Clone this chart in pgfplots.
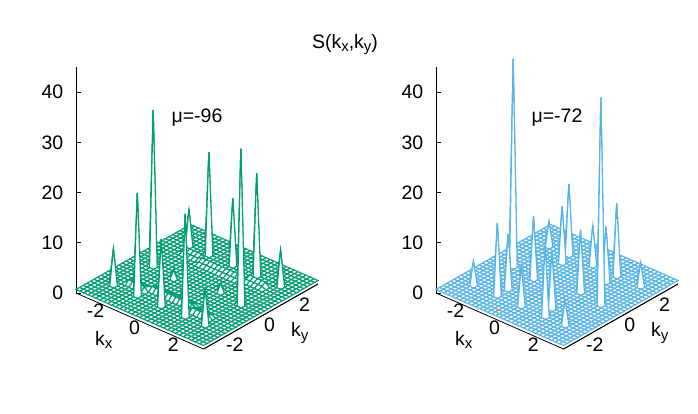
\documentclass[border=0pt]{standalone}
\usepackage{pgfplots}
\pgfplotsset{compat=1.18}
\usepackage{fontspec}
\setmainfont{Liberation Sans}
\definecolor{cgreen}{HTML}{009E73}
\definecolor{cblue}{HTML}{56B4E9}
\definecolor{corange}{HTML}{E69F00}
\newcommand{\lab}{\fontsize{19.5bp}{22bp}\selectfont}
\newcommand{\sbx}[1]{\raisebox{-3.5bp}{\fontsize{15bp}{16bp}\selectfont #1}}
\pgfplotsset{
  gpbase/.style={
    x={(19.44bp,-8.54bp)}, y={(17.45bp,9.91bp)}, z={(0bp,5.02bp)},
    anchor=origin,
    xmin=-3.28, xmax=3.28, ymin=-3.28, ymax=3.28, zmin=0, zmax=45,
    /pgf/number format/assume math mode=true,
    tick label style={font=\lab},
    axis line style={black,line width=0.8bp},
    label style={font=\lab},
    clip=false,
  },
  gp/.style={
    gpbase,
    axis x line*=bottom, axis y line=none, axis z line*=left,
    xtick={-2,0,2}, ztick={0,10,20,30,40},
    xticklabels={-2,0,2},
    xticklabel style={anchor=center, inner sep=0pt, xshift=-5.3bp, yshift=-6.7bp},
    zticklabel style={anchor=east, inner sep=0pt, xshift=-12.5bp},
    x tick style={draw=none}, z tick style={draw=none},
    xlabel={k\sbx{x}},
    x label style={at={(rel axis cs:0.4875,-0.30,0)},anchor=center,rotate=0,sloped like x axis=false},
    colormap={allwhite}{color=(white) color=(white)},
  },
  gpy/.style={
    gpbase,
    xmin=-6.56, xmax=0,
    axis x line=none, axis z line=none, axis y line*=center,
    ytick=\empty,
    ylabel={k\sbx{y}},
    y label style={at={(rel axis cs:1.30,0.506,0)},anchor=center,rotate=0,sloped like y axis=false},
  },
  mesht/.style={surf, shader=faceted, faceted color=#1, line width=1.1bp, mesh/rows=33, mesh/cols=33, mesh/ordering=x varies},
}
\newcommand{\zticks}{\pgfplotsinvokeforeach{0,10,20,30,40}{\draw[black,line width=0.8bp] (axis cs:-3.28,-3.28,##1) -- ([xshift=5bp]axis cs:-3.28,-3.28,##1);}}
\newcommand{\yticklab}{\pgfplotsinvokeforeach{-2,0,2}{\node[font=\lab,anchor=center,inner sep=0pt,xshift=8.9bp,yshift=-8.2bp] at (axis cs:3.28,##1,0) {##1};}}
\begin{document}
\begin{tikzpicture}[x=1bp,y=1bp]
\path[use as bounding box] (0,0) rectangle (698,413);
\node[font=\lab,anchor=center] at (345,368.5) {S(k\sbx{x},k\sbx{y})};
\begin{axis}[gp, at={(197bp,124.5bp)}]
\zticks
\yticklab
\addplot3[mesht=cgreen] table[row sep=crcr, z=z,
  x expr={(floor((\coordindex+0.5)/33)-16)*3.28/16},
  y expr={(16-mod(\coordindex,33))*3.28/16}] {
z\\
.7\\.7\\.7\\.7\\.7\\.7\\.7\\.7\\.7\\.7\\.7\\ .7\\.7\\.7\\.7\\.7\\.7\\.7\\.7\\.7\\.7\\.7\\ .7\\.7\\.7\\.7\\.7\\.7\\.7\\.7\\.7\\.7\\.7\\
.7\\.7\\.7\\.7\\.7\\.7\\.7\\.7\\.7\\.7\\.7\\ .7\\.7\\.7\\.7\\.7\\.7\\.7\\.7\\.7\\.7\\.7\\ .7\\.7\\.7\\.7\\.7\\.7\\.7\\.7\\.7\\.7\\.7\\
.7\\.7\\.7\\.7\\.7\\.7\\.7\\.7\\.7\\.7\\.7\\ .7\\.7\\.7\\.7\\.7\\.7\\.7\\.7\\.7\\.7\\.7\\ .7\\.7\\.7\\.7\\.7\\.7\\.7\\.7\\.7\\.7\\.7\\
.7\\.7\\.7\\.7\\.7\\.7\\.7\\.7\\.7\\.7\\.7\\ .7\\.7\\.7\\.7\\.7\\.7\\.7\\.7\\.7\\.7\\.7\\ .7\\.7\\.7\\.7\\.7\\.7\\.7\\.7\\.7\\.7\\.7\\
.7\\.7\\.7\\.7\\.7\\.7\\.7\\.7\\.7\\.7\\.7\\ .7\\.7\\.7\\.7\\.7\\.7\\.7\\.7\\.7\\.7\\.7\\ .7\\.7\\.7\\.7\\7.8\\.7\\.7\\.7\\.7\\.7\\.7\\
.7\\.7\\.7\\.7\\.7\\.7\\7.9\\.7\\.7\\.7\\.7\\ .7\\.7\\.7\\.7\\.7\\31.7\\.7\\.7\\.7\\.7\\.7\\ .7\\.7\\.7\\.7\\.7\\.7\\.7\\.7\\.7\\.7\\.7\\
.7\\.7\\.7\\.7\\.7\\.7\\.7\\.7\\1.5\\1.1\\.7\\ .7\\.7\\.7\\.7\\.7\\.7\\.7\\.7\\.7\\.7\\.7\\ .7\\1.1\\1.5\\.7\\.7\\.7\\.7\\.7\\.7\\.7\\.7\\
.7\\.7\\.7\\.7\\.7\\.7\\.7\\.7\\1.5\\1.1\\.7\\ .7\\.7\\.7\\.7\\.7\\.7\\.7\\.7\\.7\\.7\\.7\\ .7\\1.1\\1.5\\.7\\.7\\.7\\.7\\.7\\.7\\.7\\.7\\
.7\\.7\\.7\\.7\\.7\\.7\\.7\\.7\\1.5\\1.1\\.7\\ .7\\.7\\.7\\.7\\.7\\.7\\.7\\.7\\.7\\.7\\.7\\ .7\\1.1\\1.5\\.7\\.7\\.7\\.7\\.7\\.7\\.7\\.7\\
.7\\.7\\.7\\.7\\.7\\.7\\.7\\.7\\1.5\\1.1\\.7\\ .7\\.7\\.7\\.7\\.7\\.7\\.7\\.7\\.7\\.7\\.7\\ .7\\1.1\\1.5\\.7\\.7\\.7\\.7\\.7\\.7\\.7\\.7\\
.7\\.7\\.7\\.7\\.7\\.7\\21\\.7\\1.5\\1.1\\.7\\ .7\\.7\\.7\\.7\\.7\\.7\\.7\\.7\\.7\\.7\\.7\\ .7\\1.1\\1.5\\.7\\21\\.7\\.7\\.7\\.7\\.7\\.7\\
.7\\.7\\.7\\.7\\.7\\.7\\.7\\.7\\.7\\1.5\\1.1\\ .7\\.7\\.7\\.7\\.7\\.7\\2.4\\.7\\.7\\.7\\.7\\ 1.1\\1.5\\.7\\.7\\.7\\.7\\.7\\.7\\.7\\.7\\.7\\
.7\\.7\\.7\\.7\\.7\\.7\\.7\\.7\\.7\\1.5\\1.1\\ .7\\.7\\.7\\.7\\.7\\.7\\.7\\.7\\.7\\.7\\.7\\ 1.1\\1.5\\.7\\.7\\.7\\.7\\.7\\.7\\.7\\.7\\.7\\
.7\\.7\\.7\\.7\\.7\\.7\\.7\\.7\\.7\\1.5\\1.1\\ .7\\.7\\.7\\.7\\.7\\.7\\.7\\.7\\.7\\.7\\.7\\ 1.1\\1.5\\.7\\.7\\.7\\.7\\.7\\.7\\.7\\.7\\.7\\
.7\\.7\\.7\\.7\\.7\\.7\\.7\\.7\\.7\\1.5\\1.1\\ .7\\.7\\.7\\.7\\.7\\.7\\.7\\.7\\.7\\.7\\.7\\ 1.1\\1.5\\.7\\.7\\.7\\.7\\.7\\.7\\.7\\.7\\.7\\
.7\\.7\\.7\\.7\\.7\\.7\\.7\\.7\\.7\\1.5\\1.1\\ .7\\.7\\.7\\.7\\.7\\.7\\.7\\.7\\.7\\.7\\.7\\ 1.1\\1.5\\.7\\.7\\.7\\.7\\.7\\.7\\.7\\.7\\.7\\
.7\\.7\\.7\\.7\\.7\\.7\\13.9\\.7\\.7\\1.5\\1.1\\ .7\\.7\\.7\\.7\\.7\\.7\\.7\\.7\\.7\\.7\\.7\\ 1.1\\1.5\\.7\\.7\\13.9\\.7\\.7\\.7\\.7\\.7\\.7\\
.7\\.7\\.7\\.7\\.7\\.7\\.7\\.7\\.7\\1.5\\1.1\\ .7\\.7\\.7\\.7\\.7\\.7\\.7\\.7\\.7\\.7\\.7\\ 1.1\\1.5\\.7\\.7\\.7\\.7\\.7\\.7\\.7\\.7\\.7\\
.7\\.7\\.7\\.7\\.7\\.7\\.7\\.7\\.7\\1.5\\1.1\\ .7\\.7\\.7\\.7\\.7\\.7\\.7\\.7\\.7\\.7\\.7\\ 1.1\\1.5\\.7\\.7\\.7\\.7\\.7\\.7\\.7\\.7\\.7\\
.7\\.7\\.7\\.7\\.7\\.7\\.7\\.7\\.7\\1.5\\1.1\\ .7\\.7\\.7\\.7\\.7\\.7\\.7\\.7\\.7\\.7\\.7\\ 1.1\\1.5\\.7\\.7\\.7\\.7\\.7\\.7\\.7\\.7\\.7\\
.7\\.7\\.7\\.7\\.7\\.7\\.7\\.7\\.7\\1.5\\1.1\\ .7\\.7\\.7\\.7\\.7\\.7\\.7\\.7\\.7\\.7\\.7\\ 1.1\\1.5\\.7\\.7\\.7\\.7\\.7\\.7\\.7\\.7\\.7\\
.7\\.7\\.7\\.7\\.7\\.7\\.7\\.7\\.7\\1.5\\1.1\\ .7\\.7\\.7\\.7\\2.4\\.7\\.7\\.7\\.7\\.7\\.7\\ 1.1\\1.5\\.7\\.7\\.7\\.7\\.7\\.7\\.7\\.7\\.7\\
.7\\.7\\.7\\.7\\.7\\.7\\21\\.7\\1.5\\1.1\\.7\\ .7\\.7\\.7\\.7\\.7\\.7\\.7\\.7\\.7\\.7\\.7\\ .7\\1.1\\1.5\\.7\\21\\.7\\.7\\.7\\.7\\.7\\.7\\
.7\\.7\\.7\\.7\\.7\\.7\\.7\\.7\\1.5\\1.1\\.7\\ .7\\.7\\.7\\.7\\.7\\.7\\.7\\.7\\.7\\.7\\.7\\ .7\\1.1\\1.5\\.7\\.7\\.7\\.7\\.7\\.7\\.7\\.7\\
.7\\.7\\.7\\.7\\.7\\.7\\.7\\.7\\1.5\\1.1\\.7\\ .7\\.7\\.7\\.7\\.7\\.7\\.7\\.7\\.7\\.7\\.7\\ .7\\1.1\\1.5\\.7\\.7\\.7\\.7\\.7\\.7\\.7\\.7\\
.7\\.7\\.7\\.7\\.7\\.7\\.7\\.7\\1.5\\1.1\\.7\\ .7\\.7\\.7\\.7\\.7\\.7\\.7\\.7\\.7\\.7\\.7\\ .7\\1.1\\1.5\\.7\\.7\\.7\\.7\\.7\\.7\\.7\\.7\\
.7\\.7\\.7\\.7\\.7\\.7\\.7\\.7\\1.5\\1.1\\.7\\ .7\\.7\\.7\\.7\\.7\\.7\\.7\\.7\\.7\\.7\\.7\\ .7\\1.1\\1.5\\.7\\.7\\.7\\.7\\.7\\.7\\.7\\.7\\
.7\\.7\\.7\\.7\\.7\\.7\\.7\\.7\\.7\\.7\\.7\\ .7\\.7\\.7\\.7\\.7\\31.7\\.7\\.7\\.7\\.7\\.7\\ .7\\.7\\.7\\.7\\7.9\\.7\\.7\\.7\\.7\\.7\\.7\\
.7\\.7\\.7\\.7\\.7\\.7\\7.8\\.7\\.7\\.7\\.7\\ .7\\.7\\.7\\.7\\.7\\.7\\.7\\.7\\.7\\.7\\.7\\ .7\\.7\\.7\\.7\\.7\\.7\\.7\\.7\\.7\\.7\\.7\\
.7\\.7\\.7\\.7\\.7\\.7\\.7\\.7\\.7\\.7\\.7\\ .7\\.7\\.7\\.7\\.7\\.7\\.7\\.7\\.7\\.7\\.7\\ .7\\.7\\.7\\.7\\.7\\.7\\.7\\.7\\.7\\.7\\.7\\
.7\\.7\\.7\\.7\\.7\\.7\\.7\\.7\\.7\\.7\\.7\\ .7\\.7\\.7\\.7\\.7\\.7\\.7\\.7\\.7\\.7\\.7\\ .7\\.7\\.7\\.7\\.7\\.7\\.7\\.7\\.7\\.7\\.7\\
.7\\.7\\.7\\.7\\.7\\.7\\.7\\.7\\.7\\.7\\.7\\ .7\\.7\\.7\\.7\\.7\\.7\\.7\\.7\\.7\\.7\\.7\\ .7\\.7\\.7\\.7\\.7\\.7\\.7\\.7\\.7\\.7\\.7\\
.7\\.7\\.7\\.7\\.7\\.7\\.7\\.7\\.7\\.7\\.7\\ .7\\.7\\.7\\.7\\.7\\.7\\.7\\.7\\.7\\.7\\.7\\ .7\\.7\\.7\\.7\\.7\\.7\\.7\\.7\\.7\\.7\\.7\\
};
\end{axis}
\begin{axis}[gpy, at={(260.76bp,96.49bp)}]
\addplot3[draw=none] coordinates {(-3,0,0)};
\end{axis}
\node[font=\lab,anchor=center] at (197,295.5) {μ=-96};
\begin{axis}[gp, at={(557bp,124.5bp)}]
\zticks
\yticklab
\addplot3[mesht=cblue] table[row sep=crcr, z=z,
  x expr={(floor((\coordindex+0.5)/33)-16)*3.28/16},
  y expr={(16-mod(\coordindex,33))*3.28/16}] {
z\\
.7\\.7\\.7\\.7\\.7\\.7\\.7\\.7\\.7\\.7\\.7\\ .7\\.7\\.7\\.7\\.7\\.7\\.7\\.7\\.7\\.7\\.7\\ .7\\.7\\.7\\.7\\.7\\.7\\.7\\.7\\.7\\.7\\.7\\
.7\\.7\\.7\\.7\\.7\\.7\\.7\\.7\\.7\\.7\\.7\\ .7\\.7\\.7\\.7\\.7\\.7\\.7\\.7\\.7\\.7\\.7\\ .7\\.7\\.7\\.7\\.7\\.7\\.7\\.7\\.7\\.7\\.7\\
.7\\.7\\.7\\.7\\.7\\.7\\.7\\.7\\.7\\.7\\.7\\ .7\\.7\\.7\\.7\\.7\\.7\\.7\\.7\\.7\\.7\\.7\\ .7\\.7\\.7\\.7\\.7\\.7\\.7\\.7\\.7\\.7\\.7\\
.7\\.7\\.7\\.7\\.7\\.7\\.7\\.7\\.7\\.7\\.7\\ .7\\.7\\.7\\.7\\.7\\.7\\.7\\.7\\.7\\.7\\.7\\ .7\\.7\\.7\\.7\\.7\\.7\\.7\\.7\\.7\\.7\\.7\\
.7\\.7\\.7\\.7\\.7\\.7\\.7\\.7\\.7\\.7\\.7\\ .7\\.7\\.7\\.7\\.7\\.7\\.7\\.7\\.7\\.7\\.7\\ .7\\.7\\.7\\.7\\5.3\\.7\\.7\\.7\\.7\\.7\\.7\\
.7\\.7\\.7\\.7\\.7\\.7\\5.5\\.7\\.7\\.7\\.7\\ .7\\.7\\.7\\.7\\.7\\41.9\\.7\\.7\\.7\\.7\\.7\\ .7\\.7\\.7\\.7\\.7\\.7\\.7\\.7\\.7\\.7\\.7\\
.7\\.7\\.7\\.7\\.7\\.7\\.7\\.7\\.7\\.7\\.7\\ .7\\.7\\.7\\.7\\.7\\.7\\.7\\.7\\.7\\.7\\.7\\ .7\\.7\\.7\\.7\\.7\\.7\\.7\\.7\\.7\\.7\\.7\\
.7\\.7\\.7\\.7\\.7\\.7\\.7\\.7\\.7\\.7\\.7\\ .7\\.7\\.7\\.7\\.7\\.7\\.7\\.7\\.7\\.7\\.7\\ .7\\.7\\.7\\.7\\.7\\.7\\.7\\.7\\.7\\.7\\.7\\
.7\\.7\\.7\\.7\\.7\\.7\\.7\\.7\\.7\\.7\\.7\\ .7\\.7\\.7\\.7\\.7\\.7\\.7\\.7\\.7\\.7\\.7\\ .7\\.7\\.7\\.7\\.7\\.7\\.7\\.7\\.7\\.7\\.7\\
.7\\.7\\.7\\.7\\.7\\.7\\.7\\.7\\.7\\.7\\.7\\ .7\\.7\\.7\\.7\\.7\\.7\\.7\\.7\\.7\\.7\\.7\\ .7\\.7\\.7\\.7\\.7\\.7\\.7\\.7\\.7\\.7\\.7\\
.7\\.7\\.7\\.7\\.7\\.7\\14.7\\.7\\.7\\.7\\.7\\ .7\\.7\\.7\\.7\\.7\\.7\\.7\\.7\\.7\\.7\\.7\\ .7\\11.6\\.7\\.7\\15\\.7\\.7\\.7\\.7\\.7\\.7\\
.7\\.7\\.7\\.7\\.7\\.7\\.7\\.7\\.7\\11.8\\.7\\ .7\\.7\\.7\\.7\\.7\\.7\\13\\.7\\.7\\.7\\.7\\ .7\\.7\\.7\\.7\\.7\\.7\\.7\\.7\\.7\\.7\\.7\\
.7\\.7\\.7\\.7\\.7\\.7\\.7\\.7\\.7\\.7\\.7\\ .7\\.7\\.7\\.7\\.7\\.7\\.7\\.7\\.7\\.7\\.7\\ .7\\.7\\.7\\.7\\.7\\.7\\.7\\.7\\.7\\.7\\.7\\
.7\\.7\\.7\\.7\\.7\\.7\\.7\\.7\\.7\\.7\\.7\\ .7\\.7\\.7\\.7\\.7\\.7\\.7\\.7\\.7\\.7\\.7\\ .7\\.7\\.7\\.7\\.7\\.7\\.7\\.7\\.7\\.7\\.7\\
.7\\.7\\.7\\.7\\.7\\.7\\.7\\.7\\.7\\.7\\.7\\ .7\\.7\\.7\\.7\\.7\\.7\\.7\\.7\\.7\\.7\\.7\\ .7\\.7\\.7\\.7\\.7\\.7\\.7\\.7\\.7\\.7\\.7\\
.7\\.7\\.7\\.7\\.7\\.7\\.7\\.7\\.7\\.7\\.7\\ .7\\.7\\.7\\.7\\.7\\.7\\.7\\.7\\.7\\.7\\.7\\ .7\\.7\\.7\\.7\\.7\\.7\\.7\\.7\\.7\\.7\\.7\\
.7\\.7\\.7\\.7\\.7\\.7\\8.5\\.7\\.7\\.7\\.7\\ .7\\.7\\.7\\.7\\.7\\.7\\.7\\.7\\.7\\.7\\.7\\ .7\\.7\\.7\\.7\\8.5\\.7\\.7\\.7\\.7\\.7\\.7\\
.7\\.7\\.7\\.7\\.7\\.7\\.7\\.7\\.7\\.7\\.7\\ .7\\.7\\.7\\.7\\.7\\.7\\.7\\.7\\.7\\.7\\.7\\ .7\\.7\\.7\\.7\\.7\\.7\\.7\\.7\\.7\\.7\\.7\\
.7\\.7\\.7\\.7\\.7\\.7\\.7\\.7\\.7\\.7\\.7\\ .7\\.7\\.7\\.7\\.7\\.7\\.7\\.7\\.7\\.7\\.7\\ .7\\.7\\.7\\.7\\.7\\.7\\.7\\.7\\.7\\.7\\.7\\
.7\\.7\\.7\\.7\\.7\\.7\\.7\\.7\\.7\\.7\\.7\\ .7\\.7\\.7\\.7\\.7\\.7\\.7\\.7\\.7\\.7\\.7\\ .7\\.7\\.7\\.7\\.7\\.7\\.7\\.7\\.7\\.7\\.7\\
.7\\.7\\.7\\.7\\.7\\.7\\.7\\.7\\.7\\.7\\.7\\ .7\\.7\\.7\\.7\\.7\\.7\\.7\\.7\\.7\\.7\\.7\\ .7\\.7\\.7\\.7\\.7\\.7\\.7\\.7\\.7\\.7\\.7\\
.7\\.7\\.7\\.7\\.7\\.7\\.7\\.7\\.7\\.7\\.7\\ .7\\.7\\.7\\.7\\13\\.7\\.7\\.7\\.7\\.7\\.7\\ .7\\11.8\\.7\\.7\\.7\\.7\\.7\\.7\\.7\\.7\\.7\\
.7\\.7\\.7\\.7\\.7\\.7\\15\\.7\\.7\\11.6\\.7\\ .7\\.7\\.7\\.7\\.7\\.7\\.7\\.7\\.7\\.7\\.7\\ .7\\.7\\.7\\.7\\14.7\\.7\\.7\\.7\\.7\\.7\\.7\\
.7\\.7\\.7\\.7\\.7\\.7\\.7\\.7\\.7\\.7\\.7\\ .7\\.7\\.7\\.7\\.7\\.7\\.7\\.7\\.7\\.7\\.7\\ .7\\.7\\.7\\.7\\.7\\.7\\.7\\.7\\.7\\.7\\.7\\
.7\\.7\\.7\\.7\\.7\\.7\\.7\\.7\\.7\\.7\\.7\\ .7\\.7\\.7\\.7\\.7\\.7\\.7\\.7\\.7\\.7\\.7\\ .7\\.7\\.7\\.7\\.7\\.7\\.7\\.7\\.7\\.7\\.7\\
.7\\.7\\.7\\.7\\.7\\.7\\.7\\.7\\.7\\.7\\.7\\ .7\\.7\\.7\\.7\\.7\\.7\\.7\\.7\\.7\\.7\\.7\\ .7\\.7\\.7\\.7\\.7\\.7\\.7\\.7\\.7\\.7\\.7\\
.7\\.7\\.7\\.7\\.7\\.7\\.7\\.7\\.7\\.7\\.7\\ .7\\.7\\.7\\.7\\.7\\.7\\.7\\.7\\.7\\.7\\.7\\ .7\\.7\\.7\\.7\\.7\\.7\\.7\\.7\\.7\\.7\\.7\\
.7\\.7\\.7\\.7\\.7\\.7\\.7\\.7\\.7\\.7\\.7\\ .7\\.7\\.7\\.7\\.7\\41.9\\.7\\.7\\.7\\.7\\.7\\ .7\\.7\\.7\\.7\\5.5\\.7\\.7\\.7\\.7\\.7\\.7\\
.7\\.7\\.7\\.7\\.7\\.7\\5.3\\.7\\.7\\.7\\.7\\ .7\\.7\\.7\\.7\\.7\\.7\\.7\\.7\\.7\\.7\\.7\\ .7\\.7\\.7\\.7\\.7\\.7\\.7\\.7\\.7\\.7\\.7\\
.7\\.7\\.7\\.7\\.7\\.7\\.7\\.7\\.7\\.7\\.7\\ .7\\.7\\.7\\.7\\.7\\.7\\.7\\.7\\.7\\.7\\.7\\ .7\\.7\\.7\\.7\\.7\\.7\\.7\\.7\\.7\\.7\\.7\\
.7\\.7\\.7\\.7\\.7\\.7\\.7\\.7\\.7\\.7\\.7\\ .7\\.7\\.7\\.7\\.7\\.7\\.7\\.7\\.7\\.7\\.7\\ .7\\.7\\.7\\.7\\.7\\.7\\.7\\.7\\.7\\.7\\.7\\
.7\\.7\\.7\\.7\\.7\\.7\\.7\\.7\\.7\\.7\\.7\\ .7\\.7\\.7\\.7\\.7\\.7\\.7\\.7\\.7\\.7\\.7\\ .7\\.7\\.7\\.7\\.7\\.7\\.7\\.7\\.7\\.7\\.7\\
.7\\.7\\.7\\.7\\.7\\.7\\.7\\.7\\.7\\.7\\.7\\ .7\\.7\\.7\\.7\\.7\\.7\\.7\\.7\\.7\\.7\\.7\\ .7\\.7\\.7\\.7\\.7\\.7\\.7\\.7\\.7\\.7\\.7\\
};
\addplot3[corange,line width=1.2bp] coordinates {(-0.449,-2.997,0.7) (-0.381,-2.829,0.7)};
\end{axis}
\begin{axis}[gpy, at={(620.76bp,96.49bp)}]
\addplot3[draw=none] coordinates {(-3,0,0)};
\end{axis}
\node[font=\lab,anchor=center] at (557,295.5) {μ=-72};
\end{tikzpicture}
\end{document}
